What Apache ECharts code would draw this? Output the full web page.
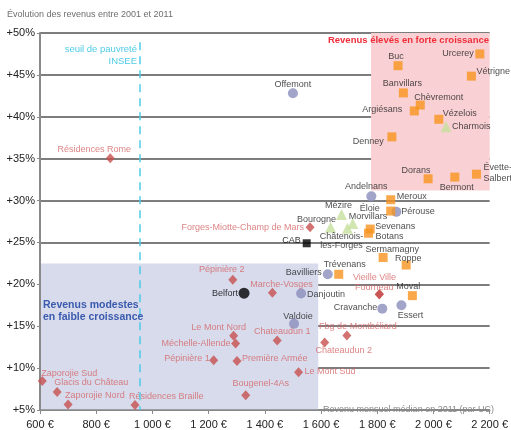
<!DOCTYPE html>
<html><head><meta charset="utf-8">
<script src="https://cdn.jsdelivr.net/npm/echarts@6/dist/echarts.min.js"></script>
<style>html,body{margin:0;padding:0;background:#fff}#c{width:511px;height:430px}</style>
</head><body><div id="c"></div>
<script>
// ---- data ----
const xTicks = [600, 800, 1000, 1200, 1400, 1600, 1800, 2000, 2200];
const yTicks = [5, 10, 15, 20, 25, 30, 35, 40, 45, 50];

// high-income communes (orange squares)
const orangeNames = ['Buc','Urcerey','Vétrigne','Banvillars','Chèvremont','Argiésans','Vézelois','Denney','Dorans','Bermont','Évette-\nSalbert','Meroux','Éloie','Sevenans','Botans','Sermamagny','Roppe','Trévenans','Moval'];
const orangeX = [1874, 2165, 2135, 1893, 1953, 1932, 2019, 1852, 1981, 2076, 2153, 1848, 1848, 1775, 1769, 1821, 1903, 1663, 1925];
const orangeY = [46.1, 47.5, 44.85, 42.85, 41.4, 40.7, 39.7, 37.6, 32.6, 32.8, 33.15, 30.1, 28.75, 26.6, 26.1, 23.2, 22.3, 21.2, 18.65];

// urban communes (purple circles)
const purpleNames = ['Offemont','Andelnans','Pérouse','Bavilliers','Danjoutin','Cravanche','Essert','Valdoie'];
const purpleX = [1500, 1779, 1868, 1624, 1529, 1818, 1886, 1504];
const purpleY = [42.8, 30.5, 28.65, 21.2, 18.9, 17.1, 17.5, 15.3];

// green triangles
const greenNames = ['Charmois','Mézire','Bourogne','Morvillars','Châtenois-\nles-Forges'];
const greenX = [2045, 1673, 1634, 1713, 1694];
const greenY = [38.8, 28.35, 26.8, 27.25, 26.7];

// Belfort neighbourhoods (red diamonds)
const redNames = ['Résidences Rome','Forges-Miotte-Champ de Mars','Pépinière 2','Marche-Vosges','Vieille Ville','Fourneau','Le Mont Nord','Méchelle-Allende','Chateaudun 1','Fbg de Montbéliard','Chateaudun 2','Pépinière 1','Première Armée','Le Mont Sud','Bougenel-4As','Zaporojie Sud','Glacis du Château','Zaporojie Nord','Résidences Braille'];
const redX = [850, 1561, 1286, 1427, 1808, 1807, 1289, 1296, 1444, 1692, 1613, 1218, 1301, 1520, 1332, 608, 661, 700, 938];
const redY = [35.05, 26.8, 20.55, 19.0, 18.85, 18.8, 13.85, 12.95, 13.3, 13.9, 13.05, 10.95, 10.85, 9.5, 6.75, 8.45, 7.15, 5.65, 5.6];

// references
const cabPoint = [1549, 24.9];
const belfortPoint = [1326, 18.95];
const povertyLine = 954;
const lowZone = [[600, 5], [1590, 22.5]];
const highZone = [[1778, 31.2], [2200, 50]];

// ---- label placement (align, dx, dy) ----
const place = {
  'Buc':['center',-2,-9],'Urcerey':['right',-6,0],'Vétrigne':['left',5,-5],'Banvillars':['center',-1,-9],
  'Chèvremont':['left',-6,-8],'Argiésans':['right',-12,-1],'Vézelois':['left',4,-6],'Denney':['right',-8,5],
  'Dorans':['center',-12,-8],'Bermont':['center',2,10],'Évette-\nSalbert':['left',7,-1],'Meroux':['left',6,-3],
  'Éloie':['right',-11,-3],'Sevenans':['left',5,-3],'Botans':['left',7,3],'Sermamagny':['center',9,-8],
  'Roppe':['center',2,-7],'Trévenans':['center',6,-10],'Moval':['center',-4,-9],
  'Offemont':['center',0,-9],'Andelnans':['center',-5,-10],'Pérouse':['left',5,0],'Bavilliers':['right',-6,-2],
  'Danjoutin':['left',6,1],'Cravanche':['right',-5,-1],'Essert':['center',9,10],'Valdoie':['center',4,-7],
  'Charmois':['left',6,0],'Mézire':['center',-3,-9],'Bourogne':['center',-14,-8],'Morvillars':['left',-4,-7],
  'Châtenois-\nles-Forges':['center',-6,13],
  'Résidences Rome':['center',-16,-9],'Forges-Miotte-Champ de Mars':['right',-6,0],'Pépinière 2':['center',-11,-10],
  'Marche-Vosges':['center',9,-8],'Vieille Ville':['center',-5,-16],'Fourneau':['center',-5,-7],
  'Le Mont Nord':['center',-15,-8],'Méchelle-Allende':['right',-5,0],'Chateaudun 1':['center',5,-9],
  'Fbg de Montbéliard':['center',11,-9],'Chateaudun 2':['center',19,8],'Pépinière 1':['right',-4,-2],
  'Première Armée':['left',5,-2],'Le Mont Sud':['left',6,-1],'Bougenel-4As':['center',15,-12],
  'Zaporojie Sud':['left',-1,-8],'Glacis du Château':['left',-3,-9],'Zaporojie Nord':['left',-3,-9],
  'Résidences Braille':['left',-6,-8],'CAB':['right',-6,-3],'Belfort':['right',-6,0]
};

const FONT = 'Liberation Sans, Arial, sans-serif';
function build(names, xs, ys, color) {
  return names.map((n, i) => {
    const p = place[n] || ['center', 0, -9];
    return {
      name: n, value: [xs[i], ys[i]],
      label: { show: true, position: 'inside', align: p[0], verticalAlign: 'middle', offset: [p[1], p[2]],
               formatter: n, color: color, fontSize: 9, fontFamily: FONT,
               lineHeight: n.indexOf('Châtenois') === 0 ? 9 : 11 }
    };
  });
}

const chart = echarts.init(document.getElementById('c'), null, { renderer: 'canvas' });
const fmtEuro = v => (v >= 1000 ? Math.floor(v / 1000) + '\u00a0' + String(v % 1000).padStart(3, '0') : String(v)) + ' €';

chart.setOption({
  animation: false,
  backgroundColor: '#fff',
  grid: { left: 40, top: 33, width: 452, height: 382 },
  xAxis: {
    type: 'value', min: xTicks[0], max: xTicks[xTicks.length - 1], interval: 200, z: 1,
    axisLine: { show: true, lineStyle: { color: '#8a8a8a', width: 1.5 } },
    axisTick: { show: true, length: 4, lineStyle: { color: '#8a8a8a' } },
    axisLabel: { formatter: fmtEuro, color: '#222', fontSize: 11, fontFamily: FONT, margin: 9 },
    splitLine: { show: false }
  },
  yAxis: {
    type: 'value', min: yTicks[0], max: yTicks[yTicks.length - 1], interval: 5, z: 1,
    axisLine: { show: true, lineStyle: { color: '#8a8a8a', width: 2 } },
    axisTick: { show: true, length: 3, lineStyle: { color: '#8a8a8a' } },
    axisLabel: { formatter: v => '+' + v + '%', color: '#222', fontSize: 11, fontFamily: FONT, margin: 5 },
    splitLine: { show: true, lineStyle: { color: '#7d7d7d', width: 2 } }
  },
  series: [
    {
      type: 'scatter', z: 0, data: [], silent: true,
      markArea: {
        silent: true,
        data: [
          [{ coord: lowZone[0], itemStyle: { color: '#d7dbec' } }, { coord: lowZone[1] }],
          [{ coord: highZone[0], itemStyle: { color: '#f9d0d3' } }, { coord: highZone[1] }]
        ]
      }
    },
    {
      type: 'scatter', data: [], silent: true, z: 2,
      markLine: {
        silent: true, symbol: 'none', label: { show: false },
        lineStyle: { color: '#4fcbe6', width: 1.5, type: [8, 6] },
        data: [[{ coord: [povertyLine, 48.9] }, { coord: [povertyLine, 5] }]]
      }
    },
    { type: 'scatter', symbol: 'diamond', symbolSize: [9, 10], z: 3, itemStyle: { color: '#c74f4e' },
      data: build(redNames, redX, redY, '#d46566') },
    { type: 'scatter', symbol: 'circle', symbolSize: 10, z: 3, itemStyle: { color: '#8b8dbd' },
      data: build(purpleNames, purpleX, purpleY, '#222') },
    { type: 'scatter', symbol: 'triangle', symbolSize: 11, z: 3, itemStyle: { color: '#c6e09c' },
      data: build(greenNames, greenX, greenY, '#222') },
    { type: 'scatter', symbol: 'rect', symbolSize: 9, z: 3, itemStyle: { color: '#f7941e' },
      data: build(orangeNames, orangeX, orangeY, '#222') },
    { type: 'scatter', symbol: 'rect', symbolSize: 8, z: 3, itemStyle: { color: '#000' },
      data: build(['CAB'], [cabPoint[0]], [cabPoint[1]], '#000') },
    { type: 'scatter', symbol: 'circle', symbolSize: 11, z: 3, itemStyle: { color: '#000' },
      data: build(['Belfort'], [belfortPoint[0]], [belfortPoint[1]], '#000') }
  ],
  graphic: [
    { type: 'text', x: 7, y: 15, z: 10, style: { text: 'Évolution des revenus entre 2001 et 2011', fill: '#6e6e6e', font: '9px ' + FONT, verticalAlign: 'middle' } },
    { type: 'text', x: 137, y: 55, z: 10, style: { text: 'seuil de pauvreté\nINSEE', fill: '#4fcbe6', font: '9.5px ' + FONT, align: 'right', verticalAlign: 'middle', lineHeight: 12 } },
    { type: 'text', x: 489, y: 40, z: 10, style: { text: 'Revenus élevés en forte croissance', fill: '#ef2d3a', font: 'bold 9.5px ' + FONT, align: 'right', verticalAlign: 'middle' } },
    { type: 'text', x: 43, y: 311, z: 10, style: { text: 'Revenus modestes\nen faible croissance', fill: '#3a5aae', font: 'bold 10.5px ' + FONT, verticalAlign: 'middle', lineHeight: 12.5 } },
    { type: 'text', x: 494, y: 410, z: 10, style: { text: 'Revenu mensuel médian en 2011 (par UC)', fill: '#8a8a8a', font: '9px ' + FONT, align: 'right', verticalAlign: 'middle' } }
  ]
});
</script></body></html>
